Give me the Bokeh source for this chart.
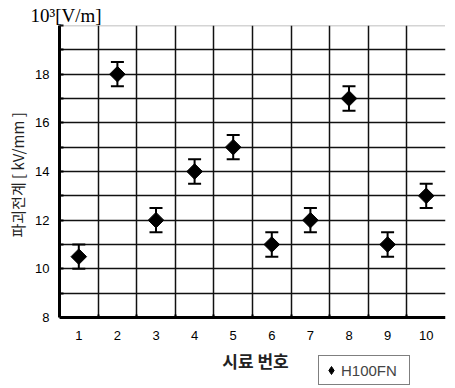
from bokeh.plotting import figure
from bokeh.models import (Range1d, FixedTicker, Whisker, TeeHead, ColumnDataSource,
                          Legend, LegendItem, Title, BoxAnnotation, Span, Label)
from bokeh.embed import file_html
from bokeh.resources import INLINE
import math

# data
samples = [1, 2, 3, 4, 5, 6, 7, 8, 9, 10]
field = [10.5, 18.0, 12.0, 14.0, 15.0, 11.0, 12.0, 17.0, 11.0, 13.0]
err = [0.5, 0.5, 0.5, 0.5, 0.5, 0.5, 0.5, 0.5, 0.5, 0.5]
y_ticks = [8, 10, 12, 14, 16, 18]
y_minor = [9, 11, 13, 15, 17, 19, 20]
y_grid = [9, 10, 11, 12, 13, 14, 15, 16, 17, 18, 19]
x_bounds = [1.5, 2.5, 3.5, 4.5, 5.5, 6.5, 7.5, 8.5, 9.5]
y_min, y_max = 8, 20
x_lo, x_hi = 0.5, 10.5
series_name = "H100FN"
unit_text = "10³[V/m]"
x_title = "시료 번호"
y_title = "파괴전계 [ kV/mm ]"

# layout (pixels)
W, H = 447, 386
TOP, LEFT, RIGHT = 25, 56, 2
PLOT_H = 292                      # pixel height of the 8..20 region
frame_h = H - TOP
y_start = y_max - frame_h / PLOT_H * (y_max - y_min)

src = ColumnDataSource(dict(
    x=samples, y=field,
    lo=[v - e for v, e in zip(field, err)],
    hi=[v + e for v, e in zip(field, err)],
))

p = figure(width=W, height=H, output_backend="svg", toolbar_location=None,
           x_range=Range1d(x_lo, x_hi), y_range=Range1d(y_start, y_max),
           min_border_left=LEFT, min_border_right=RIGHT, min_border_top=TOP,
           min_border_bottom=0)
p.background_fill_color = "white"
p.border_fill_color = "white"
p.outline_line_color = None

t = Title(text=unit_text, align="left", offset=-29, standoff=0,
          text_font="Liberation Serif", text_font_size="19px",
          text_font_style="normal", text_color="black")
p.add_layout(t, "above")

# grids
p.xgrid.ticker = FixedTicker(ticks=x_bounds)
p.ygrid.ticker = FixedTicker(ticks=y_grid)
for g in (p.xgrid, p.ygrid):
    g.grid_line_color = "#111111"
    g.grid_line_width = 1.5

# hide grid below the value axis
p.add_layout(BoxAnnotation(top=y_min, fill_color="white", fill_alpha=1.0,
                           line_color=None, level="underlay"))
# dotted top edge
p.add_layout(Span(location=y_max, dimension="width", line_color="#555555",
                  line_dash="1 1", line_width=1.5))

# y axis
ya = p.yaxis[0]
ya.bounds = (y_min, y_max)
ya.ticker = FixedTicker(ticks=y_ticks, minor_ticks=y_minor)
ya.axis_line_width = 3
ya.axis_line_color = "black"
ya.major_tick_in = 4
ya.major_tick_out = 0
ya.minor_tick_in = 4
ya.minor_tick_out = 0
ya.major_tick_line_width = 2
ya.minor_tick_line_width = 2
ya.major_label_standoff = 10
ya.major_label_text_font = "Liberation Sans"
ya.major_label_text_font_size = "13px"
ya.major_label_text_color = "black"

# y title (left panel; starts 149px above the frame bottom)
yt = Title(text=y_title, align="left", offset=149, standoff=9,
           text_font="Noto Sans CJK KR", text_font_size="15px",
           text_font_style="normal", text_color="#222222")
p.add_layout(yt, "left")

# x axis (drawn at y = 8 inside the extended frame)
xa = p.xaxis[0]
xa.fixed_location = y_min
xa.ticker = FixedTicker(ticks=samples, minor_ticks=x_bounds)
xa.axis_line_width = 3
xa.axis_line_color = "black"
xa.major_tick_line_color = None
xa.minor_tick_in = 3
xa.minor_tick_out = 0
xa.minor_tick_line_width = 2
xa.major_label_standoff = 7
xa.major_label_text_font = "Liberation Sans"
xa.major_label_text_font_size = "13px"
xa.major_label_text_color = "black"

# x title
p.add_layout(Label(x=(x_lo + x_hi) / 2, y=y_min, x_offset=3, y_offset=-43,
                   text=x_title, text_align="center", text_baseline="middle",
                   text_font="Noto Sans CJK KR", text_font_size="17px",
                   text_font_style="bold", text_color="#222222"))

# error bars
wk = Whisker(source=src, base="x", lower="lo", upper="hi", line_width=2,
             line_color="black",
             upper_head=TeeHead(size=13, line_width=2, line_color="black"),
             lower_head=TeeHead(size=13, line_width=2, line_color="black"))
p.add_layout(wk)

r = p.scatter("x", "y", source=src, marker="square", angle=math.pi / 4,
              size=11, fill_color="black", line_color="black")

# legend swatch: same points as a diamond marker, hidden in the plot area
r_leg = p.scatter("x", "y", source=src, marker="diamond", size=11,
                  fill_color="black", line_color="black", visible=False)

leg = Legend(items=[LegendItem(label=series_name, renderers=[r_leg])],
             location=(259, 1))
leg.border_line_color = "black"
leg.border_line_width = 1
leg.label_text_font = "Liberation Sans"
leg.label_text_font_size = "15px"
leg.label_standoff = 0
leg.label_width = 66
leg.label_height = 18
leg.glyph_width = 20
leg.glyph_height = 24
leg.padding = 2
leg.margin = 0
leg.background_fill_color = "white"
leg.background_fill_alpha = 1
p.add_layout(leg)

open("out.html", "w").write(file_html(p, INLINE))
